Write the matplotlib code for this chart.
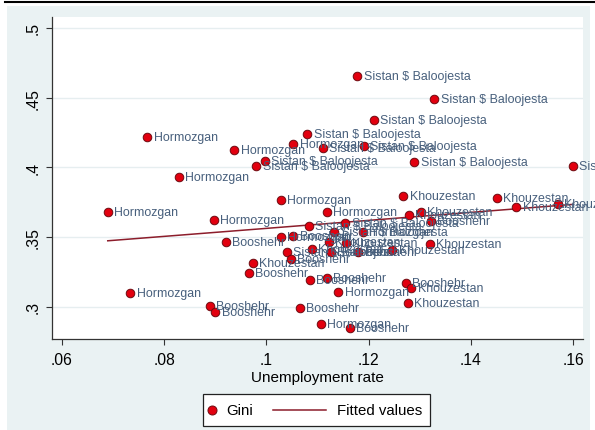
import numpy as np
import matplotlib
matplotlib.use("Agg")
import matplotlib.pyplot as plt
from matplotlib.patches import Rectangle
from matplotlib.lines import Line2D

plt.rcParams['font.family'] = ['Liberation Sans', 'DejaVu Sans']

# Unemployment rate (x) and Gini coefficient (y) by province-year
unemployment = [
    0.1178, 0.1328, 0.1210, 0.0767, 0.1080, 0.1053, 0.1110, 0.1190, 0.0937, 0.0997,
    0.0980, 0.1289, 0.1599, 0.0829, 0.1028, 0.0690, 0.1118, 0.0897, 0.1268, 0.1450,
    0.1489, 0.1570, 0.1278, 0.1302, 0.1321, 0.1083, 0.1154, 0.1133, 0.1188, 0.1028,
    0.1053, 0.0921, 0.1122, 0.1155, 0.1319, 0.1089, 0.1040, 0.1048, 0.1126, 0.1180,
    0.1246, 0.0973, 0.0966, 0.0734, 0.1085, 0.1118, 0.1141, 0.1273, 0.1283, 0.1276,
    0.0890, 0.0900, 0.1065, 0.1107, 0.1163,
]
gini = [
    0.4653, 0.4490, 0.4341, 0.4220, 0.4241, 0.4165, 0.4136, 0.4151, 0.4122, 0.4047,
    0.4009, 0.4036, 0.4007, 0.3933, 0.3765, 0.3677, 0.3681, 0.3620, 0.3796, 0.3780,
    0.3713, 0.3737, 0.3656, 0.3677, 0.3613, 0.3577, 0.3598, 0.3536, 0.3536, 0.3498,
    0.3505, 0.3462, 0.3466, 0.3457, 0.3450, 0.3414, 0.3390, 0.3342, 0.3390, 0.3390,
    0.3405, 0.3313, 0.3244, 0.3096, 0.3192, 0.3204, 0.3108, 0.3168, 0.3136, 0.3025,
    0.3005, 0.2962, 0.2989, 0.2876, 0.2846,
]
S, H, K, B = "Sistan $ Baloojesta", "Hormozgan", "Khouzestan", "Booshehr"
province = [
    S, S, S, H, S, H, S, S, H, S,
    S, S, S, H, H, H, H, H, K, K,
    K, K, K, K, B, S, S, S, H, H,
    B, B, K, K, K, K, S, B, B, B,
    K, K, B, H, B, B, H, B, K, K,
    B, B, B, H, B,
]

x_ticks = [0.06, 0.08, 0.10, 0.12, 0.14, 0.16]
x_tick_labels = [".06", ".08", ".1", ".12", ".14", ".16"]
y_ticks = [0.30, 0.35, 0.40, 0.45, 0.50]
y_tick_labels = [".3", ".35", ".4", ".45", ".5"]
legend_labels = ["Gini", "Fitted values"]

W, Hh = 595, 431
fig = plt.figure(figsize=(W / 100, Hh / 100), dpi=100)
fig.patch.set_facecolor("white")


def fx(px):
    return px / W


def fy(py):
    return 1 - py / Hh


# outer graph region
bg = "#EAF2F3"
fig.patches.append(Rectangle((fx(7), 0), fx(590 - 7), fy(7),
                             transform=fig.transFigure, facecolor=bg,
                             edgecolor="none", zorder=-10))
fig.add_artist(Line2D([fx(5), 1], [fy(3), fy(3)], color="black",
                      lw=1.5, transform=fig.transFigure))

ax = fig.add_axes([fx(52), fy(340), fx(583 - 52), (340 - 18) / Hh])
ax.set_zorder(1)
ax.set_facecolor("white")
ax.set_xlim(0.0581, 0.1619)
ax.set_ylim(0.2768, 0.5078)

for yt in y_ticks:
    ax.axhline(yt, color="#E6EEF0", lw=1.0, zorder=1)

x = np.array(unemployment)
y = np.array(gini)

red = "#E2000F"
red_edge = "#6E0A10"
fit_color = "#8C1D2B"

# OLS fitted line over the observed range
slope, intercept = np.polyfit(x, y, 1)
xf = np.array([x.min(), x.max()])
ax.plot(xf, intercept + slope * xf, color=fit_color, lw=1.1, zorder=2)

ax.scatter(x, y, s=38, facecolor=red, edgecolor=red_edge,
           linewidth=0.7, zorder=3, clip_on=False)
for xi, yi, lab in zip(x, y, province):
    ax.annotate(lab, (xi, yi), xytext=(4.6, 0), textcoords="offset points",
                va="center", ha="left", fontsize=8.9, color="#475f7c",
                zorder=4, annotation_clip=False)

ax.set_xticks(x_ticks)
ax.set_xticklabels(x_tick_labels, fontsize=11.3)
ax.set_yticks(y_ticks)
ax.set_yticklabels(y_tick_labels, fontsize=11.3, rotation=90, va="center")
ax.tick_params(axis="both", direction="out", length=4.5, width=0.8,
               color="#333333", labelcolor="black")
ax.tick_params(axis="x", pad=5)
ax.tick_params(axis="y", pad=4)

for side in ("top", "right"):
    ax.spines[side].set_visible(False)
for side in ("left", "bottom"):
    ax.spines[side].set_color("#333333")
    ax.spines[side].set_linewidth(0.9)

ax.set_xlabel("Unemployment rate", fontsize=11, labelpad=2)

# legend box below the plot
fig.patches.append(Rectangle((fx(203), fy(427)), fx(430 - 203), (427 - 395) / Hh,
                             transform=fig.transFigure, facecolor="white",
                             edgecolor="#222222", lw=0.9, zorder=5))
ly = fy(411)
fig.add_artist(Line2D([fx(212)], [ly], marker="o", ls="none", markersize=6.5,
                      markerfacecolor=red, markeredgecolor=red_edge,
                      markeredgewidth=0.7, transform=fig.transFigure, zorder=6))
fig.text(fx(226), ly, legend_labels[0], fontsize=10.8, va="center", ha="left",
         zorder=6)
fig.add_artist(Line2D([fx(273), fx(326)], [ly, ly], color=fit_color, lw=1.1,
                      transform=fig.transFigure, zorder=6))
fig.text(fx(337), ly, legend_labels[1], fontsize=10.8, va="center", ha="left",
         zorder=6)

fig.savefig("out.png", dpi=100, facecolor=fig.get_facecolor())
